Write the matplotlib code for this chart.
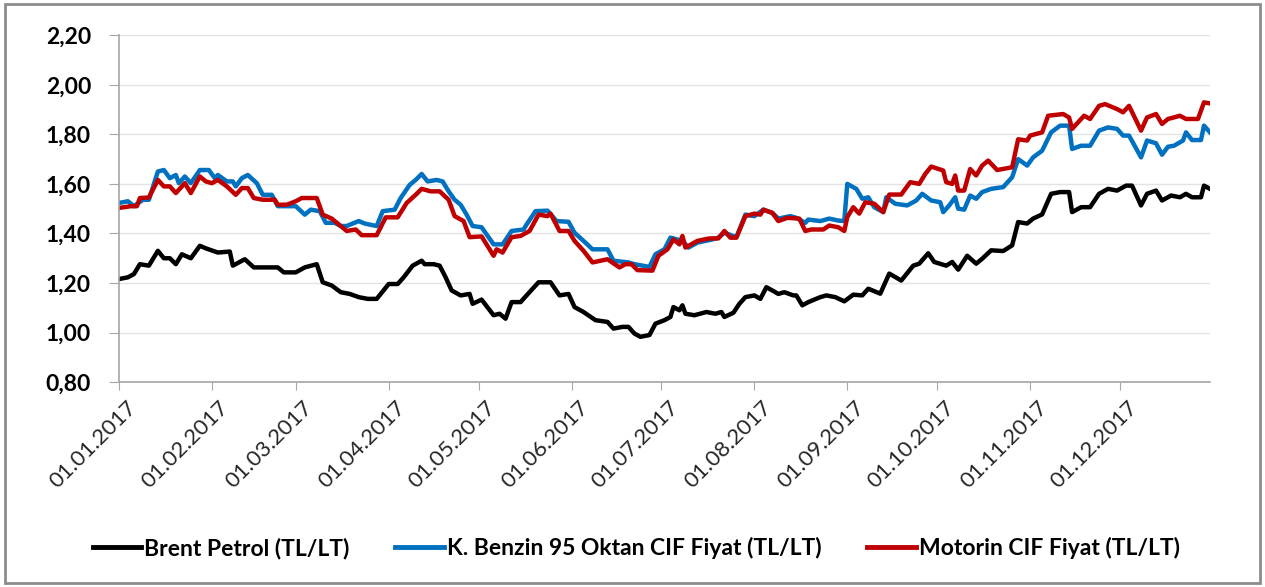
import numpy as np
import matplotlib
matplotlib.use("Agg")
import matplotlib.pyplot as plt
import matplotlib.dates as mdates
import matplotlib.transforms as mtransforms
from matplotlib.patches import Rectangle
from matplotlib.ticker import FuncFormatter

plt.rcParams['font.family'] = ['Lato', 'DejaVu Sans']

# days since 01.01.2017, values in TL/LT
brent_days = [0, 3, 5, 7, 10, 13, 15, 17, 19, 21, 24, 27, 29, 33, 37, 38, 40, 42, 45,
              52, 53, 55, 59, 62, 66, 68, 71, 74, 77, 80, 83, 86, 90, 93, 95, 98, 101,
              102, 105, 107, 109, 111, 114, 117, 118, 121, 125, 127, 129, 131, 134, 136,
              140, 144, 147, 150, 152, 155, 159, 163, 165, 168, 170, 172, 174, 177, 179,
              182, 184, 185, 187, 188, 189, 192, 196, 199, 201, 202, 205, 207, 209, 212,
              214, 216, 218, 220, 222, 225, 226, 228, 230, 234, 236, 239, 242, 245, 248,
              250, 254, 257, 261, 265, 267, 270, 272, 276, 278, 280, 283, 286, 288, 291,
              295, 298, 300, 303, 305, 308, 311, 314, 317, 318, 321, 324, 327, 330, 333,
              336, 338, 341, 343, 346, 348, 351, 354, 356, 358, 361, 362, 364]
brent = [1.216, 1.223, 1.236, 1.276, 1.27, 1.33, 1.30, 1.30, 1.276, 1.316, 1.30, 1.35,
         1.34, 1.323, 1.327, 1.27, 1.283, 1.296, 1.263, 1.263, 1.263, 1.243, 1.243, 1.263,
         1.276, 1.203, 1.19, 1.163, 1.156, 1.143, 1.136, 1.136, 1.196, 1.196, 1.223, 1.27,
         1.29, 1.276, 1.276, 1.27, 1.223, 1.17, 1.15, 1.156, 1.116, 1.133, 1.07, 1.076,
         1.056, 1.123, 1.123, 1.15, 1.203, 1.203, 1.15, 1.156, 1.103, 1.083, 1.05, 1.043,
         1.016, 1.023, 1.023, 0.996, 0.983, 0.99, 1.036, 1.05, 1.063, 1.103, 1.09, 1.11,
         1.076, 1.07, 1.083, 1.076, 1.083, 1.063, 1.08, 1.116, 1.143, 1.15, 1.136, 1.183,
         1.17, 1.156, 1.163, 1.15, 1.15, 1.11, 1.123, 1.143, 1.15, 1.143, 1.126, 1.153,
         1.15, 1.177, 1.157, 1.238, 1.21, 1.27, 1.278, 1.32, 1.285, 1.27, 1.285, 1.254,
         1.31, 1.278, 1.298, 1.332, 1.329, 1.352, 1.446, 1.44, 1.46, 1.477, 1.56, 1.567,
         1.567, 1.486, 1.506, 1.506, 1.56, 1.58, 1.573, 1.593, 1.593, 1.513, 1.56, 1.573,
         1.533, 1.553, 1.546, 1.56, 1.546, 1.546, 1.593, 1.58]

benzin_days = [0, 3, 5, 8, 10, 13, 15, 17, 19, 20, 22, 24, 27, 30, 32, 33, 36, 38, 39,
               41, 43, 46, 48, 51, 53, 56, 59, 62, 64, 67, 69, 72, 74, 76, 80, 82, 86,
               88, 92, 94, 97, 99, 101, 103, 106, 108, 110, 112, 114, 116, 118, 121, 125,
               128, 131, 135, 136, 139, 143, 146, 150, 152, 155, 158, 163, 165, 170, 172,
               177, 179, 182, 184, 188, 190, 193, 198, 200, 202, 206, 209, 212, 215, 218,
               220, 224, 226, 229, 230, 234, 237, 240, 242, 243, 246, 248, 250, 252, 255,
               256, 259, 263, 266, 268, 271, 274, 275, 277, 279, 280, 282, 284, 286, 288,
               291, 295, 298, 300, 303, 305, 308, 311, 314, 317, 318, 321, 324, 327, 330,
               333, 335, 337, 341, 343, 346, 348, 350, 352, 355, 356, 358, 361, 362, 364]
benzin = [1.523, 1.53, 1.51, 1.536, 1.536, 1.65, 1.656, 1.623, 1.636, 1.603, 1.63, 1.603,
          1.656, 1.656, 1.623, 1.636, 1.61, 1.61, 1.59, 1.623, 1.636, 1.603, 1.556, 1.556,
          1.51, 1.51, 1.51, 1.476, 1.496, 1.49, 1.443, 1.443, 1.43, 1.43, 1.45, 1.44, 1.43,
          1.49, 1.496, 1.543, 1.596, 1.616, 1.64, 1.61, 1.616, 1.61, 1.57, 1.536, 1.516,
          1.476, 1.43, 1.425, 1.356, 1.356, 1.41, 1.416, 1.436, 1.49, 1.492, 1.45, 1.447,
          1.403, 1.37, 1.336, 1.336, 1.29, 1.283, 1.276, 1.265, 1.316, 1.336, 1.383, 1.37,
          1.343, 1.363, 1.376, 1.383, 1.403, 1.385, 1.476, 1.47, 1.496, 1.483, 1.46, 1.47,
          1.463, 1.443, 1.456, 1.45, 1.46, 1.452, 1.45, 1.60, 1.58, 1.54, 1.546, 1.506,
          1.486, 1.546, 1.52, 1.513, 1.533, 1.56, 1.533, 1.526, 1.486, 1.513, 1.546, 1.50,
          1.496, 1.553, 1.54, 1.567, 1.58, 1.587, 1.627, 1.70, 1.674, 1.707, 1.734, 1.808,
          1.835, 1.835, 1.741, 1.754, 1.754, 1.815, 1.828, 1.822, 1.795, 1.795, 1.707,
          1.775, 1.764, 1.718, 1.75, 1.754, 1.775, 1.808, 1.777, 1.777, 1.835, 1.808]

motorin_days = [0, 4, 6, 7, 10, 13, 15, 17, 19, 22, 24, 27, 29, 31, 33, 36, 39, 41, 43,
                45, 48, 52, 53, 56, 59, 61, 66, 68, 71, 74, 76, 79, 81, 86, 89, 93, 96,
                99, 101, 104, 107, 110, 112, 115, 117, 121, 125, 126, 128, 131, 134, 137,
                140, 143, 144, 147, 150, 152, 155, 158, 163, 167, 169, 171, 173, 178, 180,
                183, 185, 187, 188, 189, 193, 197, 200, 202, 204, 206, 209, 212, 214, 215,
                218, 220, 223, 227, 229, 231, 235, 237, 240, 242, 243, 245, 247, 249, 252,
                255, 257, 261, 264, 267, 269, 271, 275, 276, 278, 279, 280, 282, 284, 286,
                288, 290, 293, 298, 300, 303, 304, 308, 310, 315, 317, 318, 322, 324, 327,
                329, 333, 335, 337, 341, 343, 346, 348, 350, 354, 356, 360, 362, 364]
motorin = [1.503, 1.51, 1.51, 1.543, 1.545, 1.616, 1.59, 1.59, 1.563, 1.603, 1.563, 1.63,
           1.61, 1.603, 1.616, 1.59, 1.556, 1.583, 1.583, 1.543, 1.536, 1.536, 1.516,
           1.516, 1.53, 1.543, 1.543, 1.476, 1.46, 1.43, 1.41, 1.416, 1.393, 1.393, 1.465,
           1.465, 1.523, 1.556, 1.58, 1.57, 1.57, 1.536, 1.47, 1.45, 1.385, 1.388, 1.31,
           1.336, 1.323, 1.385, 1.39, 1.41, 1.476, 1.47, 1.48, 1.41, 1.41, 1.37, 1.33,
           1.283, 1.296, 1.263, 1.276, 1.276, 1.252, 1.25, 1.31, 1.336, 1.376, 1.356, 1.39,
           1.343, 1.37, 1.38, 1.38, 1.41, 1.383, 1.383, 1.47, 1.48, 1.476, 1.496, 1.483,
           1.45, 1.463, 1.46, 1.41, 1.416, 1.416, 1.432, 1.425, 1.41, 1.466, 1.506, 1.48,
           1.526, 1.52, 1.486, 1.557, 1.557, 1.607, 1.60, 1.64, 1.67, 1.654, 1.607, 1.60,
           1.634, 1.573, 1.573, 1.66, 1.634, 1.674, 1.694, 1.656, 1.667, 1.78, 1.775, 1.795,
           1.808, 1.875, 1.882, 1.868, 1.822, 1.875, 1.862, 1.915, 1.922, 1.902, 1.889,
           1.915, 1.815, 1.868, 1.882, 1.842, 1.862, 1.875, 1.862, 1.862, 1.929, 1.925]

labels = ['Brent Petrol (TL/LT)', 'K. Benzin 95 Oktan CIF Fiyat (TL/LT)',
          'Motorin CIF Fiyat (TL/LT)']
colors = ['#000000', '#0070C0', '#C00000']

start = np.datetime64('2017-01-01')


def to_dates(days):
    return start + np.array(days).astype('timedelta64[D]')


fig = plt.figure(figsize=(12.65, 5.87), dpi=100)
fig.patches.append(Rectangle((0.004, 0.006), 0.992, 0.988, transform=fig.transFigure,
                             fill=False, edgecolor='#8c8c8c', linewidth=2))
ax = fig.add_axes([0.094, 0.349, 0.8625, 0.591])

for d, v, lab, c in zip([brent_days, benzin_days, motorin_days],
                        [brent, benzin, motorin], labels, colors):
    ax.plot(to_dates(d), v, color=c, linewidth=3.2, label=lab, solid_joinstyle='round')

ax.set_ylim(0.80, 2.20)
ax.set_yticks(np.arange(0.80, 2.21, 0.20))
ax.yaxis.set_major_formatter(FuncFormatter(lambda v, p: f'{v:.2f}'.replace('.', ',')))
ax.set_xlim(start, np.datetime64('2017-12-31'))
ax.xaxis.set_major_locator(mdates.MonthLocator())
ax.xaxis.set_major_formatter(mdates.DateFormatter('%d.%m.%Y'))

ax.grid(axis='y', color='#e3e3e3', linewidth=1)
ax.set_axisbelow(True)
for s in ['top', 'right']:
    ax.spines[s].set_visible(False)
for s in ['left', 'bottom']:
    ax.spines[s].set_color('#a6a6a6')
    ax.spines[s].set_linewidth(1.2)
ax.tick_params(axis='y', length=7, color='#a6a6a6', labelsize=16.5, pad=13)
ax.tick_params(axis='x', length=6, color='#a6a6a6', labelsize=16, pad=2)
for t in ax.get_yticklabels():
    t.set_fontweight('bold')
shift = mtransforms.ScaledTranslation(0.07, -0.04, fig.dpi_scale_trans)
for t in ax.get_xticklabels():
    t.set_rotation(45)
    t.set_ha('right')
    t.set_rotation_mode('anchor')
    t.set_color('#262626')
    t.set_transform(t.get_transform() + shift)

leg = fig.legend(loc='center', bbox_to_anchor=(0.503, 0.066), ncol=3, frameon=False,
                 prop={'weight': 'bold', 'size': 16.5}, handlelength=2.1,
                 handletextpad=0.15, columnspacing=2.0)
for h in leg.get_lines():
    h.set_linewidth(3.5)

fig.savefig('out.png', dpi=100)
